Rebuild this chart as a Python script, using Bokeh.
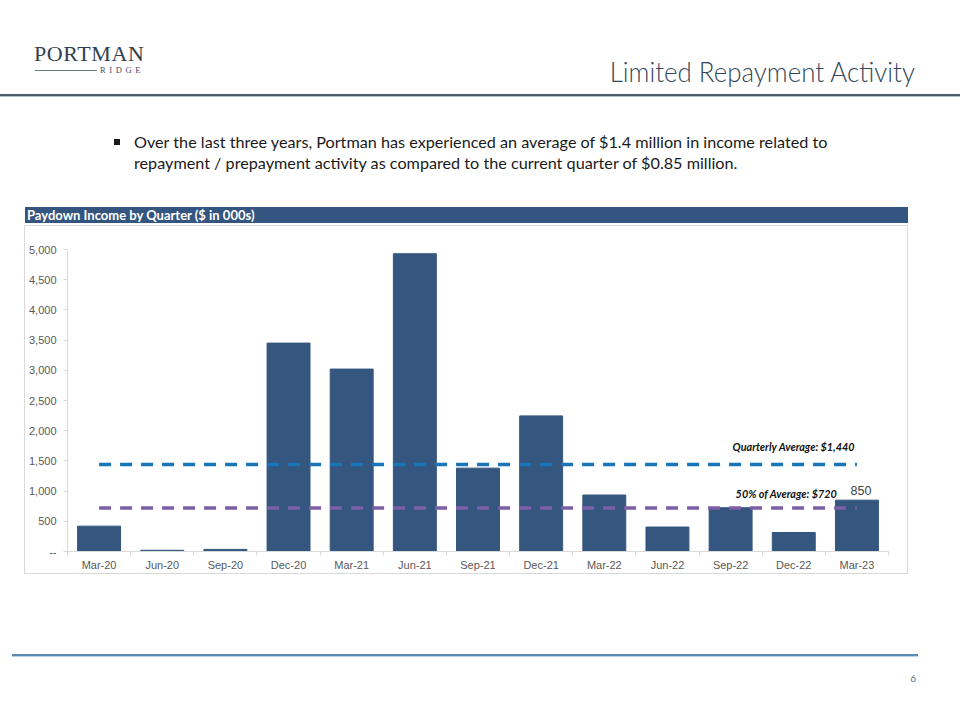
from bokeh.plotting import figure
from bokeh.models import Range1d, FixedTicker, NumeralTickFormatter, Div
from bokeh.layouts import column
from bokeh.core.properties import value
from bokeh.embed import file_html
from bokeh.resources import INLINE

# ---------------- data ----------------
quarters = ["Mar-20", "Jun-20", "Sep-20", "Dec-20", "Mar-21", "Jun-21", "Sep-21",
            "Dec-21", "Mar-22", "Jun-22", "Sep-22", "Dec-22", "Mar-23"]
income = [420, 20, 35, 3450, 3020, 4930, 1380, 2245, 935, 405, 725, 315, 850]
quarterly_avg = 1440
half_avg = 720
y_ticks = [0, 500, 1000, 1500, 2000, 2500, 3000, 3500, 4000, 4500, 5000]

idx = list(range(len(quarters)))

# ---------------- header (logo, title, bullet) ----------------
header_html = """
<div style="position:relative;width:960px;height:205px;">
  <div style="position:absolute;left:34px;top:43px;font-family:'Liberation Serif',serif;font-size:22px;line-height:22px;letter-spacing:0.6px;color:#333f50;white-space:nowrap;">PORTMAN</div>
  <div style="position:absolute;left:35px;top:70px;width:62px;height:1px;background:#6b7686;"></div>
  <div style="position:absolute;left:100px;top:66px;font-family:'Liberation Serif',serif;font-size:8.5px;line-height:8.5px;letter-spacing:3.6px;color:#3d4b5f;white-space:nowrap;">RIDGE</div>
  <div style="position:absolute;right:45px;top:57px;font-family:Lato,sans-serif;font-weight:300;font-size:28px;line-height:28px;color:#34465c;white-space:nowrap;transform:scaleX(0.925);transform-origin:right center;">Limited Repayment Activity</div>
  <div style="position:absolute;left:0px;top:94px;width:960px;height:2px;background:#4b5b6b;"></div>
  <div style="position:absolute;left:0px;top:96px;width:960px;height:1px;background:#b4bec8;"></div>
  <div style="position:absolute;left:114px;top:139px;width:6px;height:6px;background:#1a1a1a;"></div>
  <div style="position:absolute;left:134px;top:131px;font-family:Lato,sans-serif;font-size:16.2px;line-height:21px;color:#1a1a1a;white-space:nowrap;">Over the last three years, Portman has experienced an average of $1.4 million in income related to<br>repayment / prepayment activity as compared to the current quarter of $0.85 million.</div>
</div>
"""
header = Div(text=header_html, width=960, height=205, margin=(0, 0, 0, 0))

bar_title = Div(
    text='<div style="padding-left:2px;font-family:Lato,sans-serif;font-weight:bold;font-size:13px;line-height:16px;color:#ffffff;white-space:nowrap;">Paydown Income by Quarter ($ in 000s)</div>',
    width=883, height=16, margin=(2, 0, 0, 25),
    styles={"background-color": "#34557f"})

# ---------------- chart ----------------
p = figure(width=882, height=347, x_range=Range1d(-0.5, len(quarters) - 0.5),
           y_range=Range1d(0, 5000), output_backend="svg", toolbar_location=None,
           min_border_left=41, min_border_right=19, min_border_top=23, min_border_bottom=22,
           margin=(3, 0, 0, 25), styles={"outline": "1px solid #d9d9d9"})
p.background_fill_color = "white"
p.border_fill_color = "white"
p.outline_line_color = None
p.xgrid.grid_line_color = None
p.ygrid.grid_line_color = None

p.vbar(x=idx, top=income, bottom=0, width=0.68, fill_color="#34567f", line_color="#34567f")

p.line(x=[idx[0], idx[-1]], y=[quarterly_avg, quarterly_avg], line_color="#1a74b8",
       line_width=3.5, line_dash="12 9")
p.line(x=[idx[0], idx[-1]], y=[half_avg, half_avg], line_color="#7b5fa7",
       line_width=3.5, line_dash="12 9")

p.text(x=[idx[-3]], y=[quarterly_avg], text=["Quarterly Average: $1,440"], x_offset=2, y_offset=-18,
       text_align="left", text_baseline="middle", text_font=value("Lato"), text_font_size="10.8px",
       text_font_style="bold italic", text_color="#111111")
p.text(x=[idx[-3]], y=[half_avg], text=["50% of Average: $720"], x_offset=5, y_offset=-15,
       text_align="left", text_baseline="middle", text_font=value("Lato"), text_font_size="10.8px",
       text_font_style="bold italic", text_color="#111111")
p.text(x=[idx[-1]], y=[income[-1]], text=[f"{income[-1]:,}"], x_offset=4, y_offset=-5,
       text_align="center", text_baseline="bottom", text_font=value("Liberation Sans"),
       text_font_size="12.5px", text_color="#404040")

# y axis
yax = p.yaxis[0]
yax.ticker = FixedTicker(ticks=y_ticks)
yax.formatter = NumeralTickFormatter(format="0,0")
yax.major_label_overrides = {0: "--"}
yax.axis_line_color = "#d9d9d9"
yax.major_tick_line_color = "#d9d9d9"
yax.major_tick_out = 4
yax.major_tick_in = 0
yax.minor_tick_line_color = None
yax.major_label_standoff = 7
yax.major_label_text_font = "Liberation Sans"
yax.major_label_text_font_size = "11px"
yax.major_label_text_color = "#595959"

# x axis
xax = p.xaxis[0]
xax.ticker = FixedTicker(ticks=idx, minor_ticks=[i - 0.5 for i in range(len(quarters) + 1)])
xax.major_label_overrides = {i: q for i, q in zip(idx, quarters)}
xax.axis_line_color = "#d9d9d9"
xax.major_tick_line_color = None
xax.major_tick_out = 0
xax.major_tick_in = 0
xax.minor_tick_line_color = "#d9d9d9"
xax.minor_tick_out = 4
xax.minor_tick_in = 0
xax.major_label_standoff = 3
xax.major_label_text_font = "Liberation Sans"
xax.major_label_text_font_size = "11px"
xax.major_label_text_color = "#595959"

# ---------------- footer ----------------
footer_html = """
<div style="position:relative;width:960px;height:140px;">
  <div style="position:absolute;left:12px;top:81px;width:906px;height:2px;background:#5b8db4;"></div>
  <div style="position:absolute;left:12px;top:83px;width:906px;height:1px;background:#b7d3e6;"></div>
  <div style="position:absolute;right:44px;top:100px;font-family:Lato,sans-serif;font-size:10px;line-height:10px;color:#5c6f8a;">6</div>
</div>
"""
footer = Div(text=footer_html, width=960, height=140, margin=(0, 0, 0, 0))

layout = column(header, bar_title, p, footer, spacing=0)

open("out.html", "w").write(file_html(layout, INLINE))
